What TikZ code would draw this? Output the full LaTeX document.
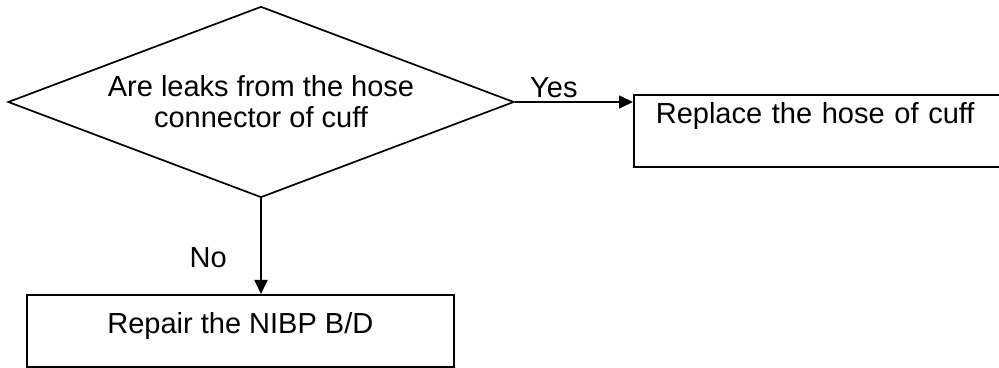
\documentclass[tikz,border=0pt]{standalone}
\usepackage{fontspec}
\setmainfont{Liberation Sans}
\usepackage{tikz}
\usetikzlibrary{shapes.geometric, arrows.meta, positioning}

\begin{document}
\begin{tikzpicture}[x=1pt, y=1pt,
    decision/.style={draw, diamond, line width=1.7pt, inner sep=0pt, aspect=2.65, minimum width=506pt, minimum height=191pt, align=center, font=\fontsize{29}{31}\selectfont},
    actbox/.style={draw, rectangle, line width=1.7pt, inner ysep=0pt, font=\fontsize{29}{31}\selectfont},
    arr/.style={-{Triangle[length=14pt, width=13pt]}, line width=1.7pt},
    lbl/.style={font=\fontsize{29}{31}\selectfont},
]
\useasboundingbox (0,0) rectangle (999,367);

\node[decision] (leak) at (261, 265) {Are leaks from the hose\\connector of cuff};
\node[actbox, anchor=north west, inner xsep=22pt, text width=360pt, text height=29pt, text depth=43pt, align=left] (hose) at (633, 273) {Replace the hose of cuff};
\node[actbox, anchor=north west, inner xsep=0pt, minimum width=427pt, text height=39pt, text depth=33pt, align=center] (nibp) at (26, 73) {Repair the NIBP B/D};

\draw[arr] (leak.east) -- node[lbl, above, pos=0.33, inner sep=3pt] {Yes} (leak.east -| hose.west);
\draw[arr] (leak.south) -- node[lbl, left=30pt, pos=0.62] {No} (leak.south |- nibp.north);

\end{tikzpicture}
\end{document}
